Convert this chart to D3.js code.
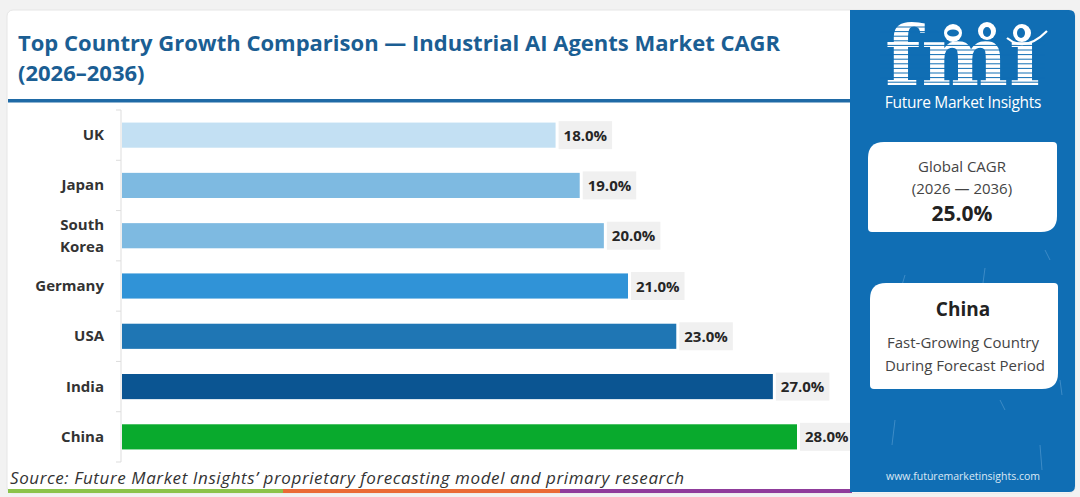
<!DOCTYPE html>
<html><head><meta charset="utf-8">
<script src="https://cdn.jsdelivr.net/npm/d3@7"></script>
<style>
html,body{margin:0;padding:0;background:#f2f2f2;}
svg{display:block;}
</style></head>
<body>
<svg id="c" width="1080" height="497"></svg>
<script>
const categories = ["UK","Japan","South Korea","Germany","USA","India","China"];
const values = [18.0,19.0,20.0,21.0,23.0,27.0,28.0];
const barColors = ["#c3e0f3","#7ebae1","#7ebae1","#3093d7","#1f76b4","#0b5592","#09aa2d"];
const titleLines = ["Top Country Growth Comparison \u2014 Industrial AI Agents Market CAGR","(2026\u20132036)"];
const globalLines = ["Global CAGR","(2026 \u2014 2036)","25.0%"];
const leaderLines = ["China","Fast-Growing Country","During Forecast Period"];
const sourceText = "Source: Future Market Insights\u2019 proprietary forecasting model and primary research";

const svg = d3.select("#c");
const font = "'Open Sans', sans-serif";

// card
svg.append("rect").attr("x",7).attr("y",10).attr("width",1068).attr("height",483).attr("rx",6)
  .attr("fill","#ffffff").attr("stroke","#e6e6e6");

// bottom stripe
const stripe = [["#8bc34a",8,283],["#ea6b35",283,560],["#8f3c9b",560,852]];
stripe.forEach(s=>svg.append("rect").attr("x",s[1]).attr("y",489).attr("width",s[2]-s[1]).attr("height",4).attr("fill",s[0]));

// title
titleLines.forEach((t,i)=>svg.append("text").attr("x",18).attr("y",51+i*30)
  .attr("font-family",font).attr("font-weight",700).attr("font-size",22)
  .attr("fill","#1b5e93").text(t));
svg.append("rect").attr("x",8).attr("y",99).attr("width",845).attr("height",3.5).attr("fill","#1f6aa6");

// scales
const x = d3.scaleLinear().domain([0,28]).range([121,797]);
const y = d3.scaleBand().domain(categories).range([110,462]).paddingInner(0.5).paddingOuter(0.25);

// axis line + ticks at band boundaries
svg.append("line").attr("x1",121).attr("x2",121).attr("y1",110).attr("y2",462).attr("stroke","#dddddd");
const gap = (y.step()-y.bandwidth())/2;
const bounds = categories.map(c=>y(c)-gap).concat([y(categories[categories.length-1])+y.bandwidth()+gap]);
svg.selectAll(".tk").data(bounds).join("line").attr("x1",116).attr("x2",121)
  .attr("y1",d=>d).attr("y2",d=>d).attr("stroke","#dddddd");

// bars
svg.selectAll(".bar").data(categories).join("rect")
  .attr("x",x(0)+1).attr("y",d=>y(d)).attr("height",y.bandwidth())
  .attr("width",(d,i)=>x(values[i])-x(0)-1).attr("fill",(d,i)=>barColors[i]);

// category labels
categories.forEach(c=>{
  const cy = y(c)+y.bandwidth()/2;
  const parts = c==="South Korea" ? ["South","Korea"] : [c];
  const t = svg.append("text").attr("x",104).attr("text-anchor","end")
    .attr("font-family",font).attr("font-weight",700).attr("font-size",15).attr("fill","#333");
  parts.forEach((p,k)=>t.append("tspan").attr("x",104)
    .attr("y",cy+5+(k-(parts.length-1)/2)*22).text(p));
});

// value labels
categories.forEach((c,i)=>{
  const cy = y(c)+y.bandwidth()/2;
  const g = svg.append("g");
  const bx = x(values[i])+3;
  const bg = g.append("rect").attr("x",bx).attr("y",cy-14).attr("height",28).attr("fill","#f0f0f0");
  const t = g.append("text").attr("x",bx+5).attr("y",cy+5.5)
    .attr("font-family",font).attr("font-weight",700).attr("font-size",15).attr("fill","#262626")
    .text(values[i].toFixed(1)+"%");
  bg.attr("width",t.node().getComputedTextLength()+10);
});

// source
svg.append("text").attr("x",10).attr("y",484).attr("font-family",font).attr("font-style","italic")
  .attr("font-size",17).attr("fill","#333").attr("textLength",674).attr("lengthAdjust","spacing").text(sourceText);

// right panel
svg.append("path").attr("d","M850,10 H1069 Q1075,10 1075,16 V486 Q1075,492 1069,492 H850 Z").attr("fill","#106eb4");

// faint decorations
const deco = [[905,275,900,292],[985,268,983,283],[1060,380,1062,395],[895,420,892,445],[1040,445,1042,470],[1000,400,1005,410],[930,470,935,480],[1045,250,1050,260]];
deco.forEach(d=>svg.append("line").attr("x1",d[0]).attr("y1",d[1]).attr("x2",d[2]).attr("y2",d[3])
  .attr("stroke","#5b9fd3").attr("stroke-width",1).attr("opacity",0.6));

// logo
const logo = svg.append("g");
logo.append("text").attr("x",963).attr("y",85).attr("text-anchor","middle")
  .attr("font-family","'DejaVu Serif', serif").attr("font-weight",700).attr("font-size",82)
  .attr("fill","#ffffff").attr("letter-spacing",1).text("fm\u0131");
for(let yy=27; yy<86; yy+=4.6){
  logo.append("line").attr("x1",880).attr("x2",1045).attr("y1",yy).attr("y2",yy)
    .attr("stroke","#106eb4").attr("stroke-width",1);
}
[[953,33],[987,31],[1022,33]].forEach((p,i)=>{
  logo.append("circle").attr("cx",p[0]).attr("cy",p[1]).attr("r",9).attr("fill","#ffffff");
  logo.append("ellipse").attr("cx",p[0]+(i===2?-1:0)).attr("cy",p[1]+(i===1?1:0)).attr("rx",i===0?6:4).attr("ry",i===0?3.5:5)
    .attr("fill","#106eb4");
});
logo.append("path").attr("d","M1007,38 Q1025,53 1047,31").attr("fill","none").attr("stroke","#ffffff").attr("stroke-width",2.2);
svg.append("text").attr("x",963).attr("y",108).attr("text-anchor","middle")
  .attr("font-family",font).attr("font-size",15.5).attr("fill","#ffffff").attr("letter-spacing",-0.3)
  .text("Future Market Insights");

// boxes
function box(x0,y0,x1,y1,rb,rs){
  return `M${x0+rb},${y0} H${x1-rs} Q${x1},${y0} ${x1},${y0+rs} V${y1-rb} Q${x1},${y1} ${x1-rb},${y1} H${x0+rs} Q${x0},${y1} ${x0},${y1-rs} V${y0+rb} Q${x0},${y0} ${x0+rb},${y0} Z`;
}
svg.append("path").attr("d",box(868,142,1057,232,16,4)).attr("fill","#ffffff");
svg.append("path").attr("d",box(870,283,1058,389,16,4)).attr("fill","#ffffff");

const gx = 962;
svg.append("text").attr("x",gx).attr("y",172).attr("text-anchor","middle").attr("font-family",font)
  .attr("font-size",15).attr("fill","#444").text(globalLines[0]);
svg.append("text").attr("x",gx).attr("y",194).attr("text-anchor","middle").attr("font-family",font)
  .attr("font-size",15).attr("fill","#444").text(globalLines[1]);
svg.append("text").attr("x",gx).attr("y",221).attr("text-anchor","middle").attr("font-family",font)
  .attr("font-weight",700).attr("font-size",21).attr("fill","#222").text(globalLines[2]);

svg.append("text").attr("x",963).attr("y",316).attr("text-anchor","middle").attr("font-family",font)
  .attr("font-weight",700).attr("font-size",19).attr("fill","#222").text(leaderLines[0]);
svg.append("text").attr("x",963).attr("y",348).attr("text-anchor","middle").attr("font-family",font)
  .attr("font-size",15).attr("fill","#444").text(leaderLines[1]);
svg.append("text").attr("x",965).attr("y",371).attr("text-anchor","middle").attr("font-family",font)
  .attr("font-size",15).attr("fill","#444").text(leaderLines[2]);

svg.append("text").attr("x",963).attr("y",480).attr("text-anchor","middle").attr("font-family",font)
  .attr("font-size",10.5).attr("fill","#dbe8f5").text("www.futuremarketinsights.com");
</script>
</body></html>
